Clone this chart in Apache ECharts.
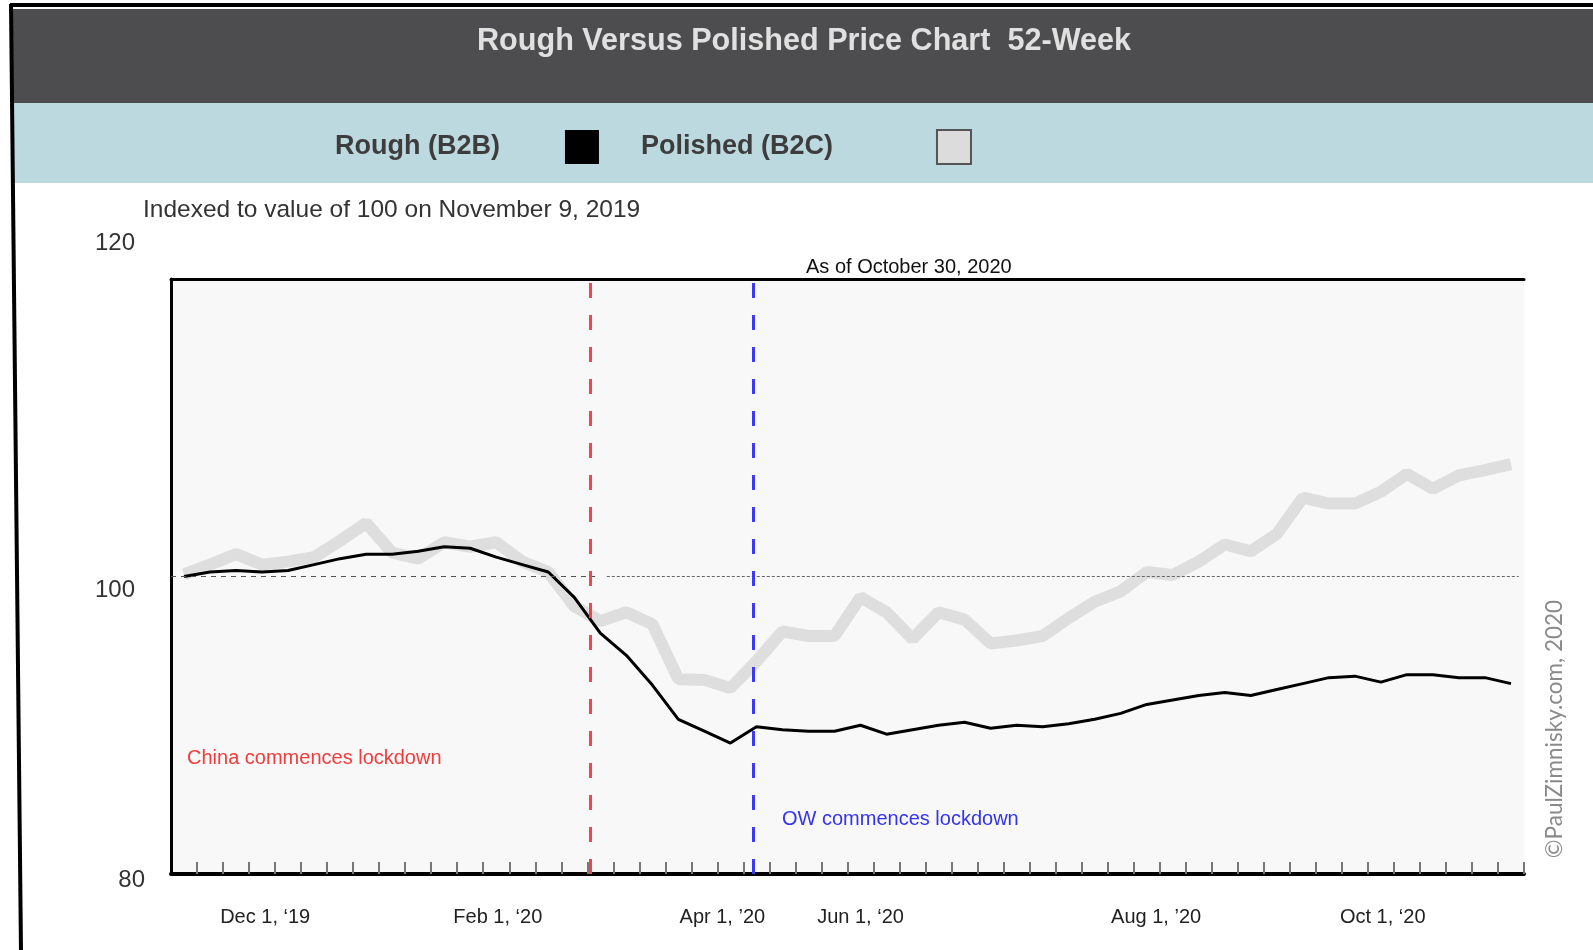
<!DOCTYPE html>
<html>
<head>
<meta charset="utf-8">
<title>Rough Versus Polished Price Chart 52-Week</title>
<script src="https://cdn.jsdelivr.net/npm/echarts@6/dist/echarts.min.js"></script>
<style>
  html, body { margin: 0; padding: 0; background: #fff; }
  #chart { width: 1593px; height: 950px; }
</style>
</head>
<body>
<div id="chart"></div>
<script>
// weekly index, week 0 = Nov 9, 2019 (= 100), last week = Oct 30, 2020
const rough = [
  100.0, 100.3, 100.4, 100.3, 100.4, 100.8, 101.2, 101.5, 101.5, 101.7,
  102.0, 101.9, 101.3, 100.8, 100.3, 98.6, 96.2, 94.7, 92.7, 90.4,
  89.6, 88.8, 89.9, 89.7, 89.6, 89.6, 90.0, 89.4, 89.7, 90.0,
  90.2, 89.8, 90.0, 89.9, 90.1, 90.4, 90.8, 91.4, 91.7, 92.0,
  92.2, 92.0, 92.4, 92.8, 93.2, 93.3, 92.9, 93.4, 93.4, 93.2,
  93.2, 92.8,
]
const polished = [
  100.15, 100.8, 101.5, 100.8, 101.0, 101.3, 102.4, 103.6, 101.6, 101.2,
  102.3, 102.0, 102.3, 101.0, 100.3, 98.0, 97.0, 97.6, 96.8, 93.1,
  93.05, 92.5, 94.3, 96.3, 96.0, 96.0, 98.6, 97.6, 95.8, 97.6,
  97.1, 95.5, 95.7, 96.0, 97.2, 98.3, 99.0, 100.3, 100.1, 101.0,
  102.15, 101.7, 102.85, 105.3, 104.9, 104.9, 105.7, 106.9, 105.9, 106.8,
  107.15, 107.55,
]

// x labels sit at (fractional) week positions
const xLabelWeeks = [3.12, 12.06, 20.69, 26.0, 37.36, 46.07]
const xLabelText = ['Dec 1, ‘19', 'Feb 1, ‘20', 'Apr 1, ’20', 'Jun 1, ‘20', 'Aug 1, ’20', 'Oct 1, ‘20']

// lockdown markers (week positions)
const chinaLockdownWeek = 15.6
const owLockdownWeek = 21.87

const FONT = '"Liberation Sans", Arial, sans-serif'

const toPoints = (arr) => arr.map((v, i) => [i, v])
// ticks sit between weeks
const weekTicks = rough.map((_, i) => i + 0.5)
const xMin = -0.5
const xMax = rough.length - 0.5

const chart = echarts.init(document.getElementById('chart'))

const yRich = (pad) => ({fontSize: 24, color: '#333', fontFamily: FONT, padding: pad})
const legendRich = (pad) => ({fontSize: 27, fontWeight: 'bold', color: '#3d3d3d', fontFamily: FONT, padding: pad})

const option = {
  animation: false,
  backgroundColor: '#fff',
  title: [
    {
      text: 'Rough Versus Polished Price Chart  52-Week',
      left: 477, top: 26, padding: 0,
      textStyle: {color: '#e0e0e0', fontSize: 30.6, fontWeight: 'bold', fontFamily: FONT},
    },
    {
      text: 'Indexed to value of 100 on November 9, 2019',
      left: 143, top: 198, padding: 0,
      textStyle: {color: '#333', fontSize: 24.5, fontWeight: 'normal', fontFamily: FONT},
    },
    {
      text: 'As of October 30, 2020',
      left: 806, top: 257, padding: 0,
      textStyle: {color: '#111', fontSize: 20, fontWeight: 'normal', fontFamily: FONT},
    },
  ],
  legend: {
    left: 335, top: 129, padding: 0,
    align: 'right',
    itemWidth: 34, itemHeight: 34, itemGap: 42,
    selectedMode: false,
    data: [
      {name: 'Rough (B2B)', icon: 'rect', itemStyle: {color: '#000', borderWidth: 0}},
      {name: 'Polished (B2C)', icon: 'rect', itemStyle: {color: '#dcdcdc', borderColor: '#555', borderWidth: 2}},
    ],
    formatter: (name) => (name === 'Rough (B2B)' ? '{r|' : '{p|') + name + '}',
    textStyle: {
      fontSize: 27, fontWeight: 'bold', color: '#3d3d3d', fontFamily: FONT,
      rich: {
        r: legendRich([0, 60, 0, 0]),
        p: legendRich([0, 99, 0, 0]),
      },
    },
  },
  grid: {
    left: 171, right: 69, top: 279, bottom: 76,
    show: true, backgroundColor: '#f8f8f8', borderWidth: 0,
  },
  xAxis: [
    {
      type: 'value', min: xMin, max: xMax,
      axisLine: {show: true, onZero: false, lineStyle: {color: '#000', width: 4}},
      axisTick: {show: true, inside: true, length: 12, customValues: weekTicks, lineStyle: {color: '#777', width: 2}},
      axisLabel: {
        customValues: xLabelWeeks,
        formatter: (v) => {
          const i = xLabelWeeks.findIndex((w) => Math.abs(w - v) < 1e-6)
          return i < 0 ? '' : xLabelText[i]
        },
        fontSize: 20, color: '#222', fontFamily: FONT, margin: 33,
      },
      splitLine: {show: false},
    },
    {
      type: 'value', position: 'top', min: xMin, max: xMax,
      axisLine: {show: true, onZero: false, lineStyle: {color: '#000', width: 3}},
      axisTick: {show: false},
      axisLabel: {show: false},
      splitLine: {show: false},
    },
  ],
  yAxis: {
    type: 'value', min: 80, max: 120, interval: 20,
    axisLine: {show: true, onZero: false, lineStyle: {color: '#000', width: 3}},
    axisTick: {show: false},
    splitLine: {show: false},
    axisLabel: {
      margin: 26,
      formatter: (v) => (v === 120 ? '{top|' : v === 100 ? '{mid|' : '{low|') + v + '}',
      rich: {
        top: yRich([0, 10, 72, 0]),
        mid: yRich([28, 10, 0, 0]),
        low: yRich([12, 0, 0, 0]),
      },
    },
  },
  series: [
    {
      // reference line at 100, under the data lines
      name: 'ref', type: 'line', data: [], z: 1, silent: true,
      markLine: {
        symbol: 'none', silent: true, label: {show: false},
        data: [
          [{coord: [xMin, 100], lineStyle: {color: '#555', width: 1, type: [5, 5]}}, {coord: [15.8, 100]}],
          [{coord: [16.25, 100], lineStyle: {color: '#666', width: 1, type: [3, 2]}}, {coord: [51.3, 100]}],
        ],
      },
    },
    {
      name: 'Polished (B2C)', type: 'line', data: toPoints(polished), symbol: 'none', z: 2,
      lineStyle: {color: '#dedede', width: 12},
      itemStyle: {color: '#dcdcdc'},
    },
    {
      name: 'Rough (B2B)', type: 'line', data: toPoints(rough), symbol: 'none', z: 3,
      lineStyle: {color: '#000', width: 3},
      itemStyle: {color: '#000'},
      markLine: {
        symbol: 'none', silent: true, label: {show: false},
        data: [
          {xAxis: chinaLockdownWeek, lineStyle: {color: '#f0474f', width: 3, type: [15, 17]}},
          {xAxis: owLockdownWeek, lineStyle: {color: '#3b3bf5', width: 3, type: [15, 17]}},
        ],
      },
    },
  ],
  graphic: [
    {type: 'rect', z: -10, shape: {x: 12, y: 9, width: 1581, height: 94}, style: {fill: '#4d4d4f'}},
    {type: 'rect', z: -10, shape: {x: 13, y: 103, width: 1580, height: 80}, style: {fill: '#bcd9e0'}},
    {type: 'line', shape: {x1: 10, y1: 5, x2: 1593, y2: 5}, style: {stroke: '#000', lineWidth: 4}},
    {type: 'line', shape: {x1: 11, y1: 4, x2: 21, y2: 950}, style: {stroke: '#000', lineWidth: 4}},
    {
      type: 'text', x: 187, y: 758,
      style: {text: 'China commences lockdown', fill: '#f03c3c', fontSize: 20, fontFamily: FONT, verticalAlign: 'middle'},
    },
    {
      type: 'text', x: 782, y: 819,
      style: {text: 'OW commences lockdown', fill: '#3434ee', fontSize: 20, fontFamily: FONT, verticalAlign: 'middle'},
    },
    {
      type: 'text', x: 1555, y: 729, rotation: Math.PI / 2,
      style: {text: '©PaulZimnisky.com, 2020', fill: '#8a8a8a', fontSize: 22.5, fontFamily: 'Lato, "Noto Sans", sans-serif', align: 'center', verticalAlign: 'middle'},
    },
  ],
}

chart.setOption(option)
</script>
</body>
</html>
